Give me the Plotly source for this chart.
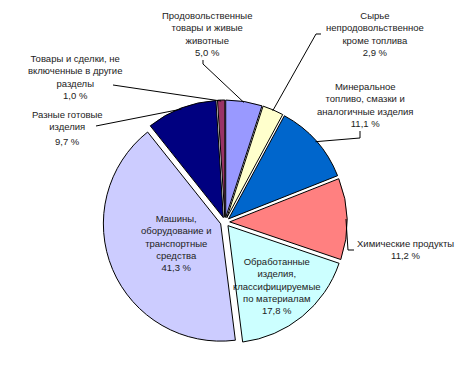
import math
import plotly.graph_objects as go

categories = [
    "Продовольственные товары и живые животные",
    "Сырье непродовольственное кроме топлива",
    "Минеральное топливо, смазки и аналогичные изделия",
    "Химические продукты",
    "Обработанные изделия, классифицируемые по материалам",
    "Машины, оборудование и транспортные средства",
    "Разные готовые изделия",
    "Товары и сделки, не включенные в другие разделы",
]
values = [5.0, 2.9, 11.1, 11.2, 17.8, 41.3, 9.7, 1.0]
value_labels = ["5,0 %", "2,9 %", "11,1 %", "11,2 %", "17,8 %", "41,3 %", "9,7 %", "1,0 %"]
label_lines = [
    "Продовольственные<br>товары и живые<br>животные",
    "Сырье<br>непродовольственное<br>кроме топлива",
    "Минеральное<br>топливо, смазки и<br>аналогичные изделия",
    "Химические продукты",
    "Обработанные<br>изделия,<br>классифицируемые<br>по материалам",
    "Машины,<br>оборудование и<br>транспортные<br>средства",
    "Разные готовые<br>изделия",
    "Товары и сделки, не<br>включенные в другие<br>разделы",
]
colors = ["#9999FF", "#FFFFCC", "#0066CC", "#FF8080", "#CCFFFF", "#CCCCFF", "#000080", "#993366"]

# page body has an 8px margin; work in window pixels and convert
OFF = 8
WIN_W, WIN_H = 467, 384
W, H = WIN_W - 2 * OFF, WIN_H - 2 * OFF
cx, cy, half = 225, 222, 122          # window px
pull = 0.04
r = half / (1 + pull)


def px(x):
    return (x - OFF) / W


def py(y):
    return 1 - (y - OFF) / H


# label layout (window px): text centre, leader-line start points (before the tip)
label_layout = [
    dict(kind="out", x=207, y=34, line=[(203, 60), (203, 64)]),
    dict(kind="out", x=375, y=34, line=[(321, 34), (316, 34)]),
    dict(kind="out", x=365, y=105, line=[(360, 131), (360, 138)]),
    dict(kind="out", x=405, y=249, line=[(354, 250), (348, 250)]),
    dict(kind="in", dist=82),
    dict(kind="in", dist=53),
    dict(kind="out", x=67, y=120, line=[(96, 126)], extra=(67, 142)),
    dict(kind="out", x=75, y=77, line=[(113, 85)]),
]

fig = go.Figure(go.Pie(
    labels=categories,
    values=values,
    sort=False,
    direction="clockwise",
    rotation=0,
    pull=[pull] * len(values),
    marker=dict(colors=colors, line=dict(color="#000000", width=1)),
    textinfo="none",
    hoverinfo="label+percent",
    showlegend=False,
    domain=dict(x=[px(cx - half), px(cx + half)],
                y=[py(cy + half), py(cy - half)]),
))

font = dict(family="Liberation Sans, Arial", size=9.5, color="#222222")
total = sum(values)
cum = 0.0
annotations = []
shapes = []
for i, v in enumerate(values):
    mid = (cum + v / 2) / total * 2 * math.pi
    cum += v
    lay = label_layout[i]
    if lay["kind"] == "out":
        rt = r * (1 + pull) - 1
        tx = cx + rt * math.sin(mid)
        ty = cy - rt * math.cos(mid)
        pts = lay["line"] + [(tx, ty)]
        path = "M " + " L ".join(f"{px(a):.5f},{py(b):.5f}" for a, b in pts)
        shapes.append(dict(type="path", path=path, xref="paper", yref="paper",
                           line=dict(color="#000000", width=1)))
        if "extra" in lay:
            text = label_lines[i]
            ex, ey = lay["extra"]
            annotations.append(dict(x=px(ex), y=py(ey), xref="paper", yref="paper",
                                    text=value_labels[i], showarrow=False, font=font,
                                    xanchor="center", yanchor="middle"))
        else:
            text = label_lines[i] + "<br>" + value_labels[i]
        annotations.append(dict(x=px(lay["x"]), y=py(lay["y"]), xref="paper", yref="paper",
                                text=text, showarrow=False, font=font, align="center",
                                xanchor="center", yanchor="middle"))
    else:
        rr = lay["dist"]
        tx = cx + rr * math.sin(mid)
        ty = cy - rr * math.cos(mid)
        annotations.append(dict(x=px(tx), y=py(ty), xref="paper", yref="paper",
                                text=label_lines[i] + "<br>" + value_labels[i],
                                showarrow=False, font=font, align="center",
                                xanchor="center", yanchor="middle"))

fig.update_layout(
    width=W, height=H,
    margin=dict(l=0, r=0, t=0, b=0),
    paper_bgcolor="#FFFFFF",
    plot_bgcolor="#FFFFFF",
    annotations=annotations,
    shapes=shapes,
)

fig.write_html("out.html")
